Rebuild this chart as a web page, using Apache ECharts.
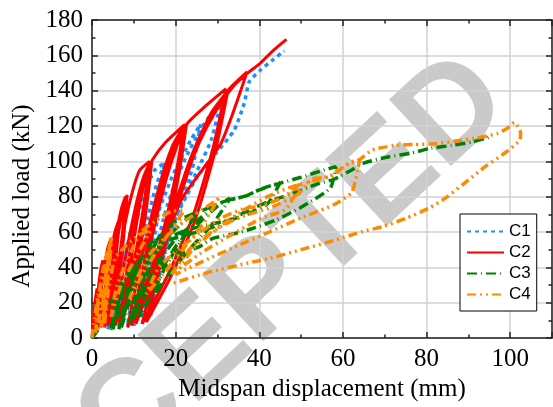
<!DOCTYPE html>
<html>
<head>
<meta charset="utf-8">
<script src="https://cdn.jsdelivr.net/npm/echarts@6/dist/echarts.min.js"></script>
<style>
  html, body { margin: 0; padding: 0; background: #fff; }
  #chart { width: 553px; height: 407px; }
</style>
</head>
<body>
<div id="chart"></div>
<script>
// load (kN) vs midspan displacement (mm), cycle by cycle
var c1Points = [
  [0,0],[1,9],[2,17],[3,24],[2.9,17],[2.7,10],[2.4,5],
  [3.2,17],[4.2,29],[5.2,38],[4.9,28],[4.4,16],[3.8,5],
  [4.8,20],[6.1,37],[7.5,50],[7.1,38],[6.2,22],[5,6],
  [6.3,26],[8,47],[9.2,60],[10,66],[9.4,52],[8.3,33],[7.2,18],[6.2,7],
  [7.8,32],[9.8,58],[12.2,80],[15,95],[17.3,99],[16,78],[13.8,50],[11.2,25],[8.5,7],
  [10.6,38],[13.3,68],[15.6,88],[17.5,99],[16.2,76],[14.4,50],[12.2,25],[10,7],
  [12.5,40],[16,72],[19.5,93],[23.6,112],[26,121],[24,96],[21.3,78],[17.8,58],[14.8,33],[12,8],
  [14.5,42],[18,75],[22,100],[26.5,120],[31,135],[28.5,112],[25,94],[21.7,78],[18.5,58],[16,35],[14,12],
  [17,45],[20,68],[22.5,80],[25.2,91.3],[29.5,104],[34,117.7],[36.4,132.8],[37.6,145],[40.3,151.7],[43,157],[46,162.5]
];
var c2Points = [
  [0,0],[0.3,10],[0.7,20],[1.2,28],[1.1,20],[0.9,11],[0.6,4],
  [1.1,18],[1.7,32],[2.2,40],[2.6,44],[2.4,34],[2,22],[1.6,12],[1.2,5],
  [2,23],[3,41],[3.8,51],[4.5,56],[4.1,43],[3.5,28],[2.7,16],[2,6],
  [3.1,27],[4.5,49],[5.6,61],[6.5,67],[6,52],[5.1,33],[4,18],[3,6],
  [4.3,32],[5.8,58],[7,73],[8,80],[7.4,62],[6.3,40],[5,22],[3.8,7],
  [5,33],[6.3,59],[7.5,74],[8.4,81],[7.8,63],[6.8,40],[5.5,22],[4.3,7],
  [6,38],[8,66],[9.8,84],[11.4,95],[13.8,100],[12.5,77],[10.5,49],[8,26],[5.5,7],
  [7.6,40],[10.2,72],[12.3,91],[14,100],[12.9,77],[11,49],[8.8,26],[6.5,8],
  [8.5,40],[10.8,72],[12.7,91],[14.3,100],[13.2,77],[11.4,49],[9.2,26],[7,8],
  [8.5,30],[10,55],[11.6,78],[13.2,94],[14.5,101],[17.5,110.5],[22,120.5],[20,92],[16.6,57],[12.6,29],[8.5,6],
  [11.9,46],[16.1,86],[19.3,109],[22.3,121],[20.4,92],[17.2,58],[13.3,30],[9.5,7],
  [12.8,47],[16.7,87],[19.9,109],[22.6,121],[20.8,93],[17.8,58],[14.1,31],[10.5,8],
  [13.5,48],[17.5,88],[20.5,110],[22.8,121.5],[27,131],[32,141],[29,108],[24,68],[18,35],[12,8],
  [17.1,54],[23.3,100],[28.4,127],[32.5,140],[29.6,107],[24.7,67],[18.9,35],[13,9],
  [18,56],[24,101],[29,128],[32.8,141],[37.1,150.7],[33.5,126],[30.8,110],[26,94],[21.3,78],[17,52],[14.5,30],[13.5,12],
  [17,50],[21,84],[25.5,110],[30,130],[34,143],[37.5,150.5],[40,155],[43,162],[46.5,169]
];
var c3Points = [
  [0,0],[1.5,5],[3,12],[4.5,20],[6,27],[7,31],[6.3,21],[5.4,11],[4.4,4],
  [5.3,13],[6.5,24],[7.6,32],[6.8,21],[5.9,11],[5,5],
  [5.9,14],[7.2,26],[8.6,36],[10,42],[9.2,30],[8,17],[6.4,5],
  [7.4,15],[8.6,27],[9.8,37],[10.8,43],[9.8,30],[8.5,17],[7,6],
  [8,17],[9.5,30],[11.2,42],[13,50],[14.5,55],[13,40],[11.2,24],[9,8],
  [10,20],[11.7,34],[13.6,46],[15.5,55],[13.9,41],[12,25],[10,10],
  [11,22],[12.6,36],[15,48],[18,57],[21,64],[25,72],[22,58],[18,42],[14.3,25],[11.5,12],
  [13,28],[16,43],[20,56],[25,66],[29,74],[33,79],[29,65],[24,52],[19,38],[15,25],
  [17,40],[21,55],[26,66],[31.3,77],[36.8,80.4],[40,84],[45,88],
  [42,76],[37,70],[32.9,66.8],[27.6,64],[22.5,61],[17,55],[13,42],
  [15.4,55],[20,66],[25.7,71.5],[31.3,77],[36.8,80.4],[40,83.8],[44.8,87.5],[50,91],[54,94],[58.3,97],
  [57,85],[50,74],[44,66.8],[38.4,62],[34,59],[28.9,56.4],[25.7,51.7],[21,48],[16.2,42.3],
  [15.4,48.8],[18.6,55.5],[23,58.5],[28,62],[33,67],[37.6,72.4],[42,77],[47,81],[54.3,87.5],[58,90],
  [62,95],[65,99],[71,102.6],[76,104.5],[81,107.4],[86,109],[91,111],[94.8,113.6]
];
var c4Points = [
  [0,0],[0.4,8],[0.9,16],[1.5,25],[1.3,15],[1,6],[0.8,3],
  [1.2,14],[1.8,26],[2.3,35],[2.7,41],[2.3,28],[1.8,14],[1.4,4],
  [1.9,17],[2.5,30],[3.1,42],[3.6,50],[3.2,37],[2.7,22],[2.2,6],
  [2.7,20],[3.3,34],[3.9,46],[4.3,54],[3.9,40],[3.3,24],[2.6,7],
  [3.1,24],[3.8,40],[4.3,51],[4.7,58],[4.2,44],[3.6,28],[3,8],
  [4,28],[5.5,45],[8,52],[11,58],[14,61],[11,48],[7,30],[4.5,12],
  [6,30],[9.3,48.7],[11.7,60],[15,66],[19.5,72],[22,72],[18,58],[13,40],[9,22],
  [11,35],[14,48],[18,58],[22,66],[26,72],[29.7,78],[30.5,80],[27,66],[22,51],[17,36],[13,25],
  [16,40],[21,50.8],[26,60],[31,68],[36,73],[40.7,75],[46,80],[50,88],[46.4,73],[40.7,68],[33,58],[26,48],[19,36],
  [24,52],[30,62],[36,69],[42.4,73.5],[49,81],[52.7,90],[57,91.3],[61.4,99],[64,101],
  [62.2,82.8],[58.3,76],[50,68],[42.4,60],[35.2,52.6],[28,45],[20,36],
  [24,50],[30,62],[36,72],[42,80],[47,85],[53,89],[57,92],[61,98],[64,101],[67,106.4],[72.5,109],[77,109.5],
  [82,110],[87,111.5],[91.6,113],[97,115.8],[99.5,119],[101,122],[102.5,116],[102.3,112],
  [99.5,106],[94,97],[90,89.4],[84.4,79],[80.5,73.4],[75,67.7],[69.4,63],[64.6,60.2],[58.3,55.5],
  [50,50],[42.4,45],[38.4,43],[28,37.3],[19.4,31]
];
var seriesNames = ['C1', 'C2', 'C3', 'C4'];
var xTitle = 'Midspan displacement (mm)';
var yTitle = 'Applied load (kN)';

var serif = '"Liberation Serif", "Times New Roman", serif';
var frame = '#222';

function axisBase(show) {
  return {
    type: 'value',
    axisLine: { show: true, onZero: false, lineStyle: { color: frame, width: 1.5 } },
    axisTick: { show: true, inside: true, length: 6, lineStyle: { color: frame, width: 1.5 } },
    minorTick: { show: true, splitNumber: 2, length: 3.5, lineStyle: { color: frame, width: 1.5 } },
    axisLabel: { show: show, fontFamily: serif, fontSize: 25, color: '#000', margin: 9 },
    splitLine: { show: show, lineStyle: { color: '#d2d2d2', width: 1.5 } }
  };
}

var bottomAxis = Object.assign(axisBase(true), { position: 'bottom', min: 0, max: 110, interval: 20 });
bottomAxis.axisLabel.showMaxLabel = false; // 110 is not labelled

var myChart = echarts.init(document.getElementById('chart'));

var option = {
  animation: false,
  backgroundColor: '#fff',
  grid: { left: 92, right: 1, top: 20, bottom: 69 },
  xAxis: [
    bottomAxis,
    Object.assign(axisBase(false), { position: 'top', min: 0, max: 110, interval: 20 })
  ],
  yAxis: [
    Object.assign(axisBase(true), { position: 'left', min: 0, max: 180, interval: 20 }),
    Object.assign(axisBase(false), { position: 'right', min: 0, max: 180, interval: 20 })
  ],
  legend: {
    orient: 'vertical',
    left: 460,
    top: 214,
    padding: [9, 6, 8, 6],
    itemWidth: 37,
    itemHeight: 14,
    itemGap: 4,
    backgroundColor: '#fff',
    borderColor: '#000',
    borderWidth: 1,
    itemStyle: { opacity: 0 },
    textStyle: { fontFamily: '"Liberation Sans", Arial, sans-serif', fontSize: 17, color: '#000' },
    data: seriesNames
  },
  graphic: [
    {
      // the "ACCEPTED" watermark across the page
      type: 'text', x: 224, y: 328, rotation: 43 * Math.PI / 180, z: -1, silent: true,
      style: { text: 'ACCEPTED', font: 'bold 132px "Liberation Sans"', fill: '#cacaca', textAlign: 'center', textVerticalAlign: 'middle' }
    },
    {
      type: 'text', x: 322, y: 389, silent: true,
      style: { text: xTitle, font: '25px ' + serif, fill: '#000', textAlign: 'center', textVerticalAlign: 'middle' }
    },
    {
      type: 'text', x: 22, y: 196, rotation: Math.PI / 2, silent: true,
      style: { text: yTitle, font: '25px ' + serif, fill: '#000', textAlign: 'center', textVerticalAlign: 'middle' }
    }
  ],
  series: [
    { name: 'C1', type: 'line', data: c1Points, symbol: 'none', smooth: 0.2, lineStyle: { color: '#1e8fff', width: 3.5, type: [4, 4] }, itemStyle: { color: '#1e8fff' } },
    { name: 'C2', type: 'line', data: c2Points, symbol: 'none', smooth: 0.2, lineStyle: { color: '#ff0000', width: 3 }, itemStyle: { color: '#ff0000' } },
    { name: 'C3', type: 'line', data: c3Points, symbol: 'none', smooth: 0.2, lineStyle: { color: '#008000', width: 3.5, type: [10, 4, 1, 4] }, itemStyle: { color: '#008000' } },
    { name: 'C4', type: 'line', data: c4Points, symbol: 'none', smooth: 0.2, lineStyle: { color: '#ff8a00', width: 3.5, type: [9, 4, 2, 4, 2, 4] }, itemStyle: { color: '#ff8a00' } }
  ]
};
myChart.setOption(option);
</script>
</body>
</html>
